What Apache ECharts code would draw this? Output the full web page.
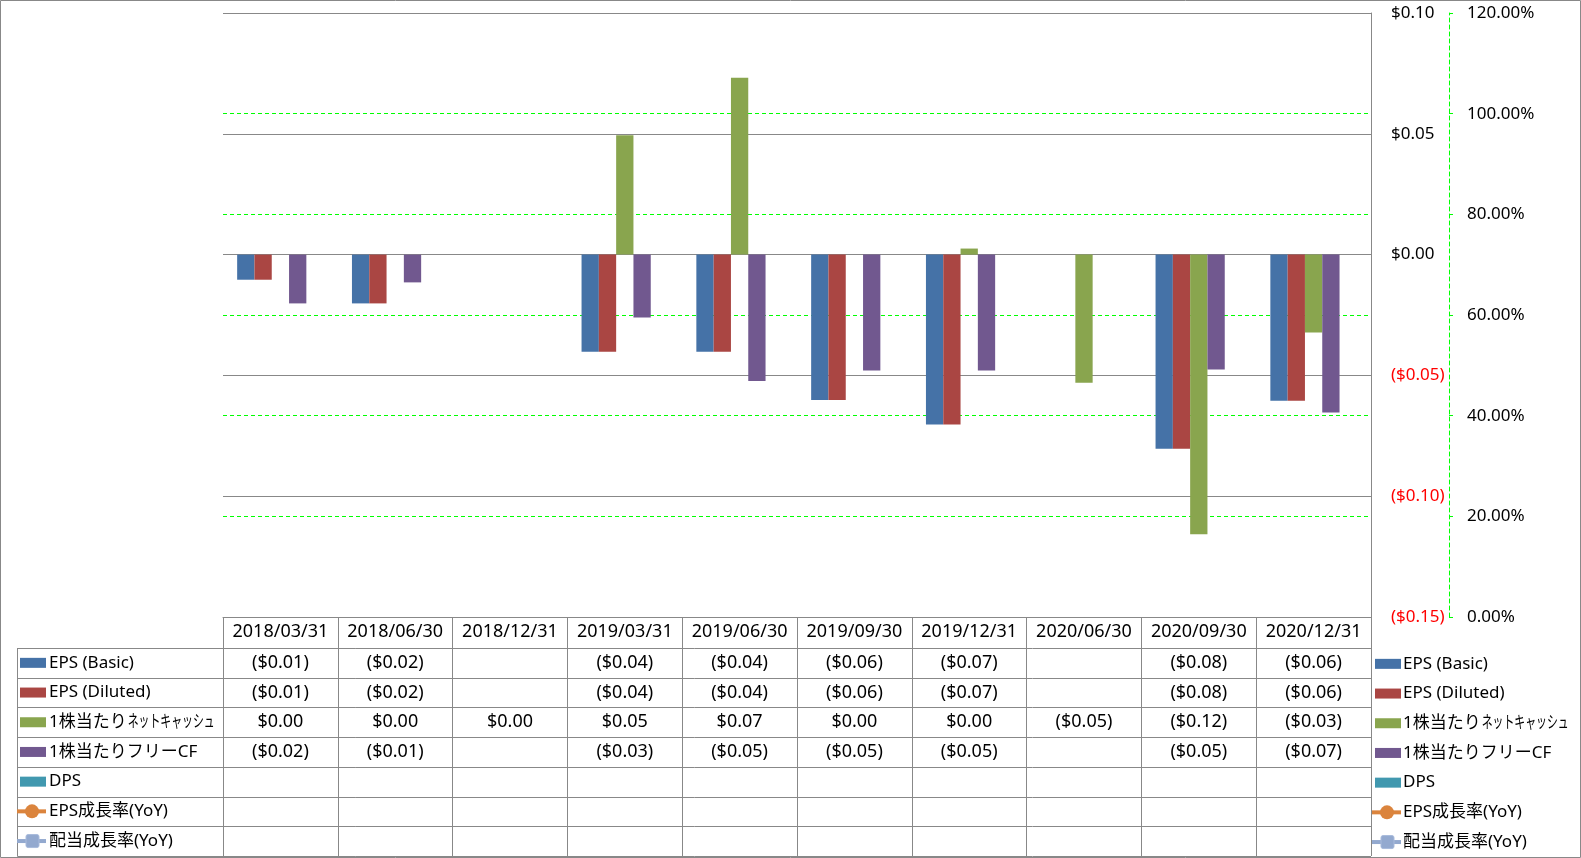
<!DOCTYPE html>
<html>
<head>
<meta charset="utf-8">
<script src="https://cdn.jsdelivr.net/npm/echarts@6/dist/echarts.min.js"></script>
<style>
html,body{margin:0;padding:0;background:#fff;}
#main{width:1581px;height:858px;}
</style>
</head>
<body>
<div id="main"></div>
<script>
// ---- data ----
const categories = ['2018/03/31','2018/06/30','2018/12/31','2019/03/31','2019/06/30','2019/09/30','2019/12/31','2020/06/30','2020/09/30','2020/12/31'];
const seriesNames = ['EPS (Basic)','EPS (Diluted)','1株当たりネットキャッシュ','1株当たりフリーCF','DPS','EPS成長率(YoY)','配当成長率(YoY)'];
const epsBasic   = [-0.0104,-0.0202,null,-0.0402,-0.0402,-0.0602,-0.0703,null,-0.0804,-0.0605];
const epsDiluted = [-0.0104,-0.0202,null,-0.0402,-0.0402,-0.0602,-0.0703,null,-0.0804,-0.0605];
const netCash    = [0,0,0,0.0494,0.0732,0,0.0025,-0.053,-0.1157,-0.0322];
const freeCF     = [-0.0202,-0.0115,null,-0.026,-0.0523,-0.048,-0.048,null,-0.0476,-0.0654];
const dps        = [null,null,null,null,null,null,null,null,null,null];
const epsGrowth  = [null,null,null,null,null,null,null,null,null,null];
const divGrowth  = [null,null,null,null,null,null,null,null,null,null];
const colors = ['#4572A7','#AA4643','#89A54E','#71588F','#4198AF','#DB843D','#93A9CF'];

// ---- layout ----
const FONT = "'Noto Sans','Noto Sans CJK JP',sans-serif";
const GRAY = '#888888';
const GREEN = '#00ff00';
const gridL = 223, gridR = 1371, gridT = 13, gridB = 617;
const headerB = 648, rowH = 29.7, tableL = 17;
const barW = 17.3;

function fmt(v){
  if (v === null || v === undefined) return '';
  const a = Math.abs(v).toFixed(2);
  return (v < 0 && a !== '0.00') ? '($' + a + ')' : '$' + a;
}
const netName = seriesNames[2];

const barData = [epsBasic, epsDiluted, netCash, freeCF, dps];
const series = [];
barData.forEach((d,i)=>{
  series.push({
    name: seriesNames[i], type:'bar', data:d, yAxisIndex:0,
    barWidth: barW, barGap:'0%',
    itemStyle:{color:colors[i]}
  });
});
series.push({name:seriesNames[5], type:'line', yAxisIndex:1, data:epsGrowth,
  symbol:'circle', symbolSize:14, itemStyle:{color:colors[5]}, lineStyle:{color:colors[5], width:4}});
series.push({name:seriesNames[6], type:'line', yAxisIndex:1, data:divGrowth,
  symbol:'rect', symbolSize:13, itemStyle:{color:colors[6]}, lineStyle:{color:colors[6], width:4}});

const option = {
  animation:false,
  color: colors,
  textStyle:{fontFamily:FONT},
  grid:{left:gridL, right:1581-gridR, top:gridT, bottom:858-gridB},
  xAxis:{
    type:'category', data:categories, z:1,
    axisLine:{onZero:false, lineStyle:{color:GRAY}},
    axisTick:{show:true, interval:0, length:239, lineStyle:{color:GRAY}},
    axisLabel:{interval:0, margin:6, fontSize:18, color:'#000', fontFamily:FONT},
    splitLine:{show:false}
  },
  yAxis:[{
    type:'value', position:'right', min:-0.15, max:0.10, interval:0.05, z:1,
    axisLine:{show:true, lineStyle:{color:GRAY}},
    axisTick:{show:false},
    axisLabel:{margin:20, fontSize:17, fontFamily:FONT,
      formatter:v=>fmt(v),
      color:v=> (v < -1e-9 ? '#ff0000' : '#000')},
    splitLine:{show:true, lineStyle:{color:GRAY, width:1}}
  },{
    type:'value', position:'right', offset:78, min:0, max:120, interval:20, z:0,
    axisLine:{show:true, lineStyle:{color:GREEN, type:[4,3]}},
    axisTick:{show:true, length:4, lineStyle:{color:GREEN}},
    axisLabel:{margin:18, fontSize:17, color:'#000', fontFamily:FONT, formatter:v=>v.toFixed(2)+'%'},
    splitLine:{show:true, lineStyle:{color:GREEN, type:[4,3], width:1}}
  }],
  series: series
};

const chart = echarts.init(document.getElementById('main'));
chart.setOption(option);

// ---- text measuring ----
const mctx = document.createElement('canvas').getContext('2d');
function textW(t, size){ mctx.font = size + 'px ' + FONT; return mctx.measureText(t).width; }

// ---- data table + legends (built from the arrays) ----
const els = [];
const lineStyle = {stroke:GRAY, lineWidth:1};
const nRows = seriesNames.length;
for (let k=0; k<=nRows; k++){
  const y = Math.round(headerB + k*rowH) + 0.5;
  els.push({type:'line', silent:true, z:100, shape:{x1:tableL+0.5, y1:y, x2:gridR, y2:y}, style:lineStyle});
}
els.push({type:'line', silent:true, z:100, shape:{x1:tableL+0.5, y1:headerB, x2:tableL+0.5, y2:Math.round(headerB+nRows*rowH)+0.5}, style:lineStyle});
els.push({type:'rect', silent:true, z:100, shape:{x:0.5, y:0.5, width:1580, height:857}, style:{fill:null, stroke:GRAY, lineWidth:1}});

function addKey(r, x0, cy){
  if (r < 5){
    els.push({type:'rect', silent:true, z:101, shape:{x:x0, y:cy-5, width:26, height:10}, style:{fill:colors[r]}});
  } else {
    els.push({type:'line', silent:true, z:101, shape:{x1:x0-3, y1:cy, x2:x0+26, y2:cy}, style:{stroke:colors[r], lineWidth:4}});
    if (r === 5){
      els.push({type:'circle', silent:true, z:102, shape:{cx:x0+12, cy:cy, r:7}, style:{fill:colors[r]}});
    } else {
      els.push({type:'rect', silent:true, z:102, shape:{x:x0+6, y:cy-6.5, width:13, height:13, r:2}, style:{fill:colors[r], stroke:'#a9bbdc', lineWidth:1}});
    }
  }
}
function addName(name, x, cy){
  if (name === netName){
    const p1 = '1株当たり', p2 = 'ネットキャッシュ';
    const w1 = textW(p1, 17);
    els.push({type:'text', silent:true, z:101, x:x, y:cy, style:{text:p1, x:0, y:0, align:'left', verticalAlign:'middle', fill:'#000', font:'17px '+FONT}});
    const s = 87 / textW(p2, 17);
    els.push({type:'text', silent:true, z:101, x:x+w1+1, y:cy, scaleX:s, style:{text:p2, x:0, y:0, align:'left', verticalAlign:'middle', fill:'#000', font:'17px '+FONT}});
  } else {
    els.push({type:'text', silent:true, z:101, x:x, y:cy, style:{text:name, x:0, y:0, align:'left', verticalAlign:'middle', fill:'#000', font:'17px '+FONT}});
  }
}

const allData = [epsBasic, epsDiluted, netCash, freeCF, dps, epsGrowth, divGrowth];
for (let r=0; r<nRows; r++){
  const cy = headerB + (r+0.5)*rowH;
  // table row key + name
  addKey(r, 20, cy);
  addName(seriesNames[r], 49, cy);
  // right-hand legend
  addKey(r, 1375, cy+1);
  addName(seriesNames[r], 1403, cy+1);
  // cells
  const d = allData[r];
  for (let i=0; i<categories.length; i++){
    const t = r < 4 ? fmt(d[i]) : '';
    if (!t) continue;
    const px = chart.convertToPixel({xAxisIndex:0}, i);
    els.push({type:'text', silent:true, z:101, style:{
      text:t, x:px, y:cy, align:'center', verticalAlign:'middle',
      fill:'#000', font:'18px '+FONT
    }});
  }
}
chart.setOption({graphic: els});
</script>
</body>
</html>
